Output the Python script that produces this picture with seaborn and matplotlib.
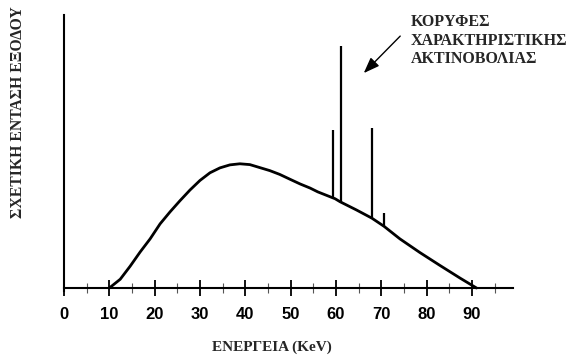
import matplotlib
matplotlib.use("Agg")
import matplotlib.pyplot as plt
import seaborn as sns
import pandas as pd

# ---- data ----
energy = [10.0, 12.4, 14.6, 16.8, 19.0, 21.2, 23.4, 25.6, 27.8, 30.0, 32.2, 34.4,
          36.6, 38.8, 41.0, 43.2, 45.4, 47.6, 49.9, 52.1, 54.3, 56.0, 59.8, 60.9,
          64.5, 67.9, 70.6, 74.1, 78.5, 82.9, 87.4, 91.0]
intensity = [0.0, 3.2, 8.0, 13.2, 18.0, 23.5, 27.9, 32.0, 35.9, 39.4, 42.2, 44.0,
             45.1, 45.5, 45.2, 44.1, 43.0, 41.6, 39.8, 38.1, 36.6, 35.2, 32.7, 31.6,
             28.6, 25.6, 22.6, 18.0, 13.0, 8.3, 3.6, 0.0]

peak_energy = [59.3, 61.0, 68.0, 70.6]
peak_base = [33.0, 31.4, 25.4, 22.5]
peak_top = [58.0, 88.6, 58.5, 27.5]

xtick_values = [0, 10, 20, 30, 40, 50, 60, 70, 80, 90]
xtick_labels = ["0", "10", "20", "30", "40", "50", "60", "70", "80", "90"]
minor_ticks = [5, 15, 25, 35, 45, 55, 65, 75, 85, 95]

x_label = "ΕΝΕΡΓΕΙΑ (KeV)"
y_label = "ΣΧΕΤΙΚΗ ΕΝΤΑΣΗ ΕΞΟΔΟΥ"
annot_text = "ΚΟΡΥΦΕΣ\nΧΑΡΑΚΤΗΡΙΣΤΙΚΗΣ\nΑΚΤΙΝΟΒΟΛΙΑΣ"

sns.set_theme(style="white")
plt.rcParams["font.family"] = ["Liberation Sans", "DejaVu Sans"]

fig = plt.figure(figsize=(5.7, 3.56), dpi=100)
ax = fig.add_axes([0, 0, 1, 1])
ax.set_facecolor("white")

df = pd.DataFrame({"E": energy, "I": intensity})
sns.lineplot(data=df, x="E", y="I", ax=ax, color="black", linewidth=2.0, sort=False)
ax.vlines(peak_energy, peak_base, peak_top, colors="black", linewidth=1.6)

ax.set_xlim(-64 / 4.533, (570 - 64) / 4.533)
ax.set_ylim(-68 / 2.73, 288 / 2.73)

for s in ["top", "right"]:
    ax.spines[s].set_visible(False)
ax.spines["left"].set_position(("data", 0))
ax.spines["bottom"].set_position(("data", 0))
ax.spines["left"].set_bounds(-1, 100)
ax.spines["bottom"].set_bounds(0, 99)
for s in ["left", "bottom"]:
    ax.spines[s].set_color("black")
    ax.spines[s].set_linewidth(1.5)

ax.set_xticks(xtick_values)
ax.set_xticklabels(xtick_labels)
ax.set_xticks(minor_ticks, minor=True)
ax.set_yticks([])
ax.tick_params(axis="x", which="major", direction="inout", length=11, width=1.3,
               color="black", pad=8, labelsize=12, labelcolor="black", bottom=True)
ax.tick_params(axis="x", which="minor", direction="inout", length=7, width=0.8,
               color="#555555", bottom=True)
for lab in ax.get_xticklabels():
    lab.set_fontweight("bold")

ax.set_xlabel("")
ax.set_ylabel("")

serif = ["Liberation Serif", "DejaVu Serif"]
fig.text(272 / 570, 1 - 347 / 356, x_label, ha="center", va="center",
         fontsize=11, fontweight="bold", family=serif)
fig.text(18 / 570, 1 - 112 / 356, y_label, ha="center", va="center", rotation=90,
         fontsize=11.3, fontweight="bold", family=serif)
fig.text(411 / 570, 1 - 14 / 356, annot_text, ha="left", va="top",
         fontsize=11.5, fontweight="bold", family=serif, linespacing=1.22)

ax.annotate("", xy=(65.7, 78), xytext=(74.6, 93),
            arrowprops=dict(arrowstyle="-|>,head_length=0.8,head_width=0.3",
                            color="black", lw=1.0))

fig.savefig("out.png", dpi=100, facecolor="white")
